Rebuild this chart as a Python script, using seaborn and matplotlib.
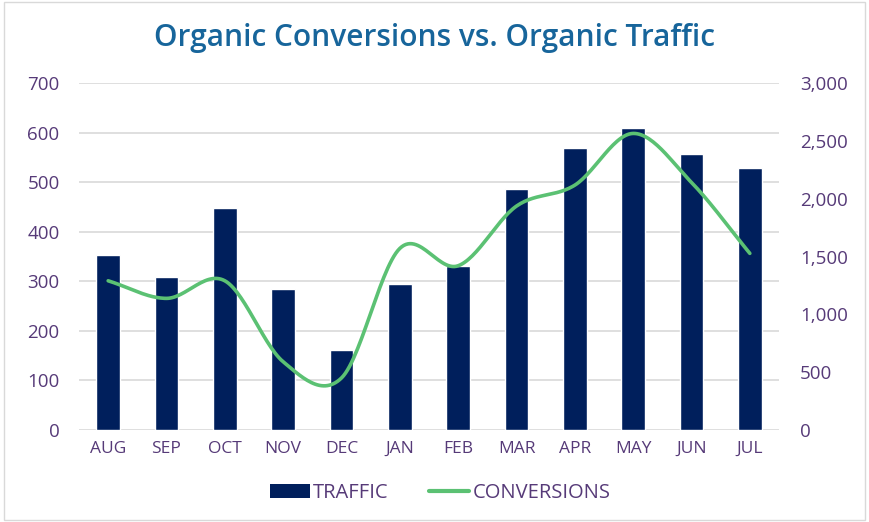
import numpy as np
import pandas as pd
import matplotlib
matplotlib.use("Agg")
import matplotlib.pyplot as plt
import matplotlib.ticker as mticker
from matplotlib.patches import Patch, Rectangle
from matplotlib.lines import Line2D
import seaborn as sns

# chart data
months = ["AUG", "SEP", "OCT", "NOV", "DEC", "JAN", "FEB", "MAR", "APR", "MAY", "JUN", "JUL"]
traffic = [353, 308, 448, 284, 162, 294, 330, 487, 569, 609, 557, 529]
conversions = [1290, 1138, 1290, 590, 450, 1570, 1420, 1936, 2117, 2564, 2140, 1527]

bar_color = "#001F5C"
line_color = "#5BC173"
text_color = "#563A78"
title_color = "#17659B"

sns.set_theme(style="white")
plt.rcParams["font.family"] = ["Open Sans", "DejaVu Sans"]

df = pd.DataFrame({"month": months, "traffic": traffic, "conversions": conversions})

fig = plt.figure(figsize=(8.69, 5.22), dpi=100)
ax = fig.add_axes([79 / 869, 1 - 430 / 522, 700 / 869, 347 / 522])

sns.barplot(data=df, x="month", y="traffic", color=bar_color, width=0.41,
            saturation=1, ax=ax, zorder=2)
ax.set_ylim(0, 700)
ax.set_xlim(-0.5, len(months) - 0.5)
ax.set_yticks(range(0, 701, 100))
ax.yaxis.grid(True, color="#D9D9D9", linewidth=1.2, zorder=0)
ax.set_axisbelow(True)
ax.set_xlabel("")
ax.set_ylabel("")
for s in ax.spines.values():
    s.set_visible(False)
ax.tick_params(axis="y", length=0, pad=14, labelsize=13.5, labelcolor=text_color)
ax.tick_params(axis="x", length=0, pad=8, labelsize=12.5, labelcolor=text_color)


def smooth(xs, ys, n=30):
    # Catmull-Rom style curve through the points, like Excel's smoothed line
    xs = np.asarray(xs, float)
    ys = np.asarray(ys, float)
    px = np.concatenate([[2 * xs[0] - xs[1]], xs, [2 * xs[-1] - xs[-2]]])
    py = np.concatenate([[2 * ys[0] - ys[1]], ys, [2 * ys[-1] - ys[-2]]])
    ox, oy = [], []
    t = np.linspace(0, 1, n)
    for i in range(1, len(px) - 2):
        for p, o in ((px, ox), (py, oy)):
            p0, p1, p2, p3 = p[i - 1], p[i], p[i + 1], p[i + 2]
            o.extend(0.5 * ((2 * p1) + (-p0 + p2) * t + (2 * p0 - 5 * p1 + 4 * p2 - p3) * t ** 2
                            + (-p0 + 3 * p1 - 3 * p2 + p3) * t ** 3))
    return np.array(ox), np.array(oy)


ax2 = ax.twinx()
sx, sy = smooth(np.arange(len(months)), conversions)
sns.lineplot(x=sx, y=sy, sort=False, color=line_color, linewidth=2.6, ax=ax2,
             solid_capstyle="round")
ax2.set_ylim(0, 3000)
ax2.set_yticks(range(0, 3001, 500))
ax2.yaxis.set_major_formatter(mticker.FuncFormatter(lambda v, p: format(int(v), ",")))
for s in ax2.spines.values():
    s.set_visible(False)
ax2.tick_params(axis="y", length=0, pad=15, labelsize=13.5, labelcolor=text_color)
ax2.grid(False)

fig.text(0.5, 1 - 38 / 522, "Organic Conversions vs. Organic Traffic", ha="center", va="center",
         fontsize=21.5, fontweight="semibold", color=title_color)

handles = [Patch(facecolor=bar_color, edgecolor="none"),
           Line2D([], [], color=line_color, linewidth=3)]
leg = fig.legend(handles, ["TRAFFIC", "CONVERSIONS"], loc="center", bbox_to_anchor=(440 / 869, 1 - 493 / 522),
                 ncol=2, frameon=False, fontsize=14.5, handlelength=2.0, handletextpad=0.15,
                 columnspacing=2.0)
for t in leg.get_texts():
    t.set_color(text_color)

fig.patches.append(Rectangle((4 / 869, 2 / 522), 861 / 869, 518 / 522, transform=fig.transFigure,
                             fill=False, edgecolor="#D9D9D9", linewidth=1))

fig.savefig("out.png", dpi=100)
